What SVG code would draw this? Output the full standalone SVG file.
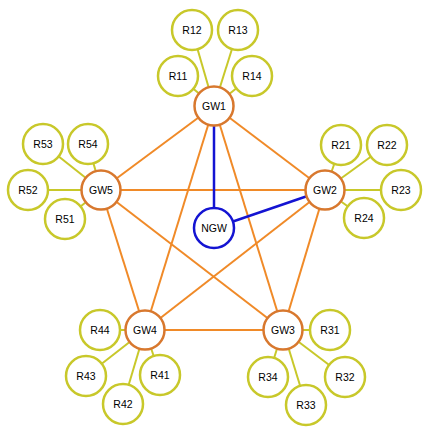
<svg xmlns="http://www.w3.org/2000/svg" width="432" height="438" viewBox="0 0 432 438">
<style>
.e{stroke:#f08a28;stroke-width:2;fill:none}
.r{stroke:#c8c82a;stroke-width:2;fill:none}
.b{stroke:#1414d2;stroke-width:2.5;fill:none}
.gw circle{fill:#fff;stroke:#d8782e;stroke-width:2.5}
.rn circle{fill:#fff;stroke:#c8c82a;stroke-width:2.5}
.ng circle{fill:#fff;stroke:#1414d2;stroke-width:2.5}
text{font-family:"Liberation Sans",Arial,sans-serif;font-size:10.5px;text-anchor:middle;dominant-baseline:central;fill:#000}
</style>
<rect width="432" height="438" fill="#fff"/>
<g id="connectors">
<line class="r" x1="214" y1="106" x2="178" y2="76"/>
<line class="r" x1="214" y1="106" x2="192" y2="30"/>
<line class="r" x1="214" y1="106" x2="238" y2="30"/>
<line class="r" x1="214" y1="106" x2="252" y2="76"/>
<line class="r" x1="325" y1="190" x2="341" y2="145"/>
<line class="r" x1="325" y1="190" x2="387" y2="145"/>
<line class="r" x1="325" y1="190" x2="401" y2="190"/>
<line class="r" x1="325" y1="190" x2="364" y2="218"/>
<line class="r" x1="283" y1="330" x2="330" y2="330"/>
<line class="r" x1="283" y1="330" x2="345" y2="377"/>
<line class="r" x1="283" y1="330" x2="306" y2="405"/>
<line class="r" x1="283" y1="330" x2="268" y2="377"/>
<line class="r" x1="145" y1="330" x2="160" y2="375"/>
<line class="r" x1="145" y1="330" x2="123" y2="404"/>
<line class="r" x1="145" y1="330" x2="86" y2="376"/>
<line class="r" x1="145" y1="330" x2="100" y2="330"/>
<line class="r" x1="101" y1="190" x2="65" y2="219"/>
<line class="r" x1="101" y1="190" x2="28" y2="190"/>
<line class="r" x1="101" y1="190" x2="43" y2="144"/>
<line class="r" x1="101" y1="190" x2="88" y2="144"/>
<line class="e" x1="214" y1="106" x2="325" y2="190"/>
<line class="e" x1="214" y1="106" x2="101" y2="190"/>
<line class="e" x1="214" y1="106" x2="283" y2="330"/>
<line class="e" x1="214" y1="106" x2="145" y2="330"/>
<line class="e" x1="101" y1="190" x2="325" y2="190"/>
<line class="e" x1="101" y1="190" x2="145" y2="330"/>
<line class="e" x1="101" y1="190" x2="283" y2="330"/>
<line class="e" x1="325" y1="190" x2="283" y2="330"/>
<line class="e" x1="325" y1="190" x2="145" y2="330"/>
<line class="e" x1="145" y1="330" x2="283" y2="330"/>
<line class="b" x1="214" y1="106" x2="214" y2="228"/>
<line class="b" x1="214" y1="228" x2="325" y2="190"/>
</g>
<g id="GW1" class="gw"><circle cx="214" cy="106" r="19.5"/><text x="214" y="106">GW1</text></g>
<g id="GW2" class="gw"><circle cx="325" cy="190" r="19.5"/><text x="325" y="190">GW2</text></g>
<g id="GW3" class="gw"><circle cx="283" cy="330" r="19.5"/><text x="283" y="330">GW3</text></g>
<g id="GW4" class="gw"><circle cx="145" cy="330" r="19.5"/><text x="145" y="330">GW4</text></g>
<g id="GW5" class="gw"><circle cx="101" cy="190" r="19.5"/><text x="101" y="190">GW5</text></g>
<g id="NGW" class="ng"><circle cx="214" cy="228" r="20"/><text x="214" y="228">NGW</text></g>
<g id="R11" class="rn"><circle cx="178" cy="76" r="20"/><text x="178" y="76">R11</text></g>
<g id="R12" class="rn"><circle cx="192" cy="30" r="20"/><text x="192" y="30">R12</text></g>
<g id="R13" class="rn"><circle cx="238" cy="30" r="20"/><text x="238" y="30">R13</text></g>
<g id="R14" class="rn"><circle cx="252" cy="76" r="20"/><text x="252" y="76">R14</text></g>
<g id="R21" class="rn"><circle cx="341" cy="145" r="20"/><text x="341" y="145">R21</text></g>
<g id="R22" class="rn"><circle cx="387" cy="145" r="20"/><text x="387" y="145">R22</text></g>
<g id="R23" class="rn"><circle cx="401" cy="190" r="20"/><text x="401" y="190">R23</text></g>
<g id="R24" class="rn"><circle cx="364" cy="218" r="20"/><text x="364" y="218">R24</text></g>
<g id="R31" class="rn"><circle cx="330" cy="330" r="20"/><text x="330" y="330">R31</text></g>
<g id="R32" class="rn"><circle cx="345" cy="377" r="20"/><text x="345" y="377">R32</text></g>
<g id="R33" class="rn"><circle cx="306" cy="405" r="20"/><text x="306" y="405">R33</text></g>
<g id="R34" class="rn"><circle cx="268" cy="377" r="20"/><text x="268" y="377">R34</text></g>
<g id="R41" class="rn"><circle cx="160" cy="375" r="20"/><text x="160" y="375">R41</text></g>
<g id="R42" class="rn"><circle cx="123" cy="404" r="20"/><text x="123" y="404">R42</text></g>
<g id="R43" class="rn"><circle cx="86" cy="376" r="20"/><text x="86" y="376">R43</text></g>
<g id="R44" class="rn"><circle cx="100" cy="330" r="20"/><text x="100" y="330">R44</text></g>
<g id="R51" class="rn"><circle cx="65" cy="219" r="20"/><text x="65" y="219">R51</text></g>
<g id="R52" class="rn"><circle cx="28" cy="190" r="20"/><text x="28" y="190">R52</text></g>
<g id="R53" class="rn"><circle cx="43" cy="144" r="20"/><text x="43" y="144">R53</text></g>
<g id="R54" class="rn"><circle cx="88" cy="144" r="20"/><text x="88" y="144">R54</text></g>
</svg>
